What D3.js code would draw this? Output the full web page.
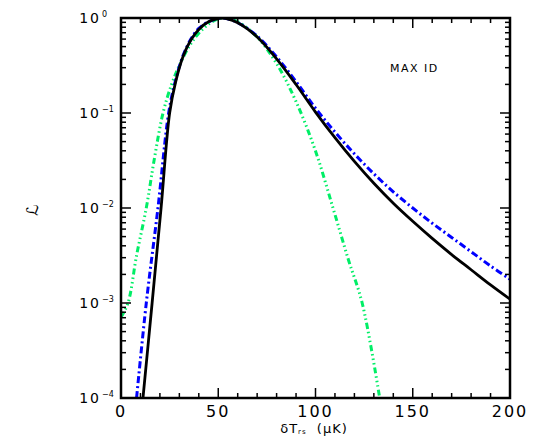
<!DOCTYPE html><html><head><script src="https://cdn.jsdelivr.net/npm/d3@7"></script>
<style>body{margin:0;background:#fff}text{font-family:"DejaVu Sans",sans-serif}</style></head><body>
<svg id="c" width="545" height="436"></svg>
<script>
const xTicks=[0,50,100,150,200];
const yTicks=[1e-4,1e-3,1e-2,1e-1,1];
const yTickExp=["-4","-3","-2","-1","0"];
// log10 values
const blackX=[11.3,16,20.6,25,28,32,36,40,45,52,60,70,80,90,100,110,120,130,140,150,160,170,180,190,200];
const blackLog=[-4,-3,-2,-1,-0.68,-0.4,-0.23,-0.12,-0.04,0,-0.05,-0.2,-0.43,-0.7,-0.99,-1.26,-1.51,-1.74,-1.95,-2.14,-2.32,-2.49,-2.65,-2.81,-2.96];
const blueX=[8,13,19,24.5,28,32,36,40,45,52,60,70,80,90,100,110,120,130,140,150,160,170,180,190,200];
const blueLog=[-4,-3,-2,-1,-0.66,-0.39,-0.22,-0.11,-0.04,0,-0.05,-0.19,-0.41,-0.67,-0.95,-1.2,-1.43,-1.64,-1.83,-2.0,-2.16,-2.31,-2.46,-2.61,-2.75];
const greenX=[0,3.6,8,13,17,21.6,26,30,35,40,46,52,60,70,80,90,100,109,117,124,133];
const greenLog=[-3.15,-3,-2.5,-2,-1.5,-1,-0.7,-0.5,-0.3,-0.16,-0.05,0,-0.04,-0.2,-0.48,-0.88,-1.4,-2,-2.55,-3,-4];
const L=121,R=510,T=18,B=398;
const svg=d3.select("#c");
const x=d3.scaleLinear().domain([0,200]).range([L,R]);
const y=d3.scaleLog().domain([1e-4,1]).range([B,T]);
svg.append("defs").append("clipPath").attr("id","cp").append("rect").attr("x",L).attr("y",T).attr("width",R-L).attr("height",B-T);
const line=d3.line().x(d=>x(d[0])).y(d=>y(Math.pow(10,d[1]))).curve(d3.curveCatmullRom);
const g=svg.append("g").attr("clip-path","url(#cp)");
function draw(X,Y,col,w,dash){g.append("path").attr("d",line(X.map((v,i)=>[v,Y[i]]))).attr("fill","none").attr("stroke",col).attr("stroke-width",w).attr("stroke-dasharray",dash);}
draw(greenX,greenLog,"#00ee66",3,"6,3,1.5,3,1.5,3,1.5,3");
draw(blueX,blueLog,"#0000ff",3,"7,3,2,3");
draw(blackX,blackLog,"#000",2.8,null);
const ax=svg.append("g").attr("stroke","#000").attr("fill","none");
ax.append("rect").attr("x",L).attr("y",T).attr("width",R-L).attr("height",B-T).attr("stroke-width",2.5);
d3.range(0,201,10).forEach(v=>{const len=v%50==0?10:5;
 ax.append("line").attr("x1",x(v)).attr("x2",x(v)).attr("y1",B).attr("y2",B-len).attr("stroke-width",1.5);
 ax.append("line").attr("x1",x(v)).attr("x2",x(v)).attr("y1",T).attr("y2",T+len).attr("stroke-width",1.5);});
const yminor=[];for(let e=-4;e<0;e++)for(let k=1;k<10;k++)yminor.push(k*Math.pow(10,e));yminor.push(1);
yminor.forEach(v=>{const maj=yTicks.includes(v);const len=maj?10:5;
 ax.append("line").attr("y1",y(v)).attr("y2",y(v)).attr("x1",L).attr("x2",L+len).attr("stroke-width",1.5);
 ax.append("line").attr("y1",y(v)).attr("y2",y(v)).attr("x1",R).attr("x2",R-len).attr("stroke-width",1.5);});
xTicks.forEach(v=>svg.append("text").attr("x",x(v)).attr("y",B+19).attr("text-anchor","middle").attr("font-size",16).attr("letter-spacing",2).text(v));
yTicks.forEach((v,i)=>{svg.append("text").attr("x",L-20).attr("y",y(v)+5).attr("text-anchor","end").attr("font-size",14).attr("letter-spacing",2).text("10");
 svg.append("text").attr("x",L-19).attr("y",y(v)-1).attr("font-size",8).text(yTickExp[i].replace("-","\u2212"));});
svg.append("text").attr("x",390).attr("y",72).attr("font-size",11).attr("letter-spacing",1.5).text("MAX   ID");
const xl=svg.append("text").attr("x",314).attr("y",433).attr("text-anchor","middle").attr("font-size",13).attr("letter-spacing",1);
xl.append("tspan").text("\u03b4T");xl.append("tspan").attr("font-size",7).attr("dy",1).text("rs");xl.append("tspan").attr("dy",-1).text("\u00a0\u00a0(\u03bcK)");
svg.append("text").attr("transform","translate(38,210) rotate(-90)").attr("text-anchor","middle").attr("font-size",16).attr("font-style","italic").text("\u2112");
</script></body></html>
